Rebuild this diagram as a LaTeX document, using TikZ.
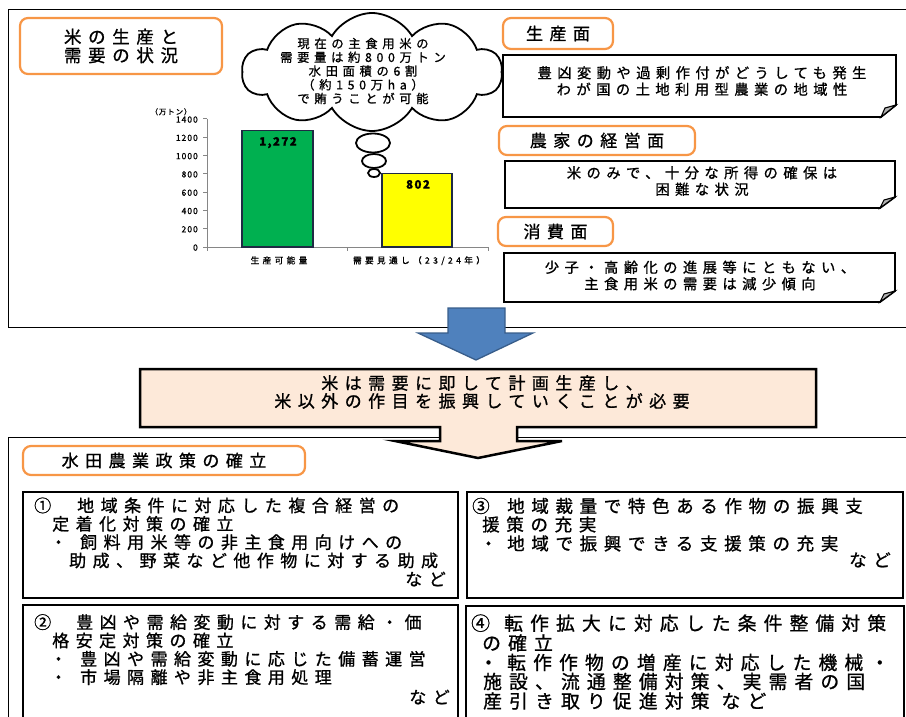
\documentclass[tikz,border=0pt]{standalone}
\usepackage{fontspec}
\usetikzlibrary{shapes.symbols}
\newfontfamily\jpL[LetterSpace=38,FakeBold=1.0]{Noto Sans CJK JP}
\newfontfamily\jpD[LetterSpace=12,FakeBold=1.0]{Noto Sans CJK JP}
\definecolor{orng}{HTML}{F79646}
\definecolor{peach}{HTML}{FDE9D9}
\definecolor{arrowblue}{HTML}{4F81BD}
\definecolor{arrowblueline}{HTML}{385D8A}
\definecolor{grn}{HTML}{00B050}
\definecolor{ylw}{HTML}{FFFF00}
\definecolor{navy}{HTML}{1F2A44}
\definecolor{axisgray}{HTML}{868686}
\begin{document}
\begin{tikzpicture}[x=1pt,y=-1pt,
  txt/.style={inner sep=0pt, text height=0.86em, text depth=0.14em},
  lbl/.style={draw=orng, line width=2.2pt, rounded corners=8pt, fill=white, inner sep=0pt,
              font=\jpL\fontsize{17}{18}\selectfont},
  pbox/.style={draw=black, line width=1.8pt},
  frame/.style={draw=black, line width=1pt},
  fbox/.style={draw=black, line width=1.8pt, fill=white, line join=miter},
  fold/.style={draw=black, line width=1.1pt, fill=black!30},
  lA/.style={txt, anchor=west, font=\jpL\fontsize{17}{18}\selectfont},
  lAe/.style={txt, anchor=east, font=\jpL\fontsize{17}{18}\selectfont},
  lAc/.style={txt, font=\jpL\fontsize{17}{18}\selectfont},
  lC/.style={txt, anchor=west, font=\jpL\fontsize{17.5}{18}\selectfont},
  lCe/.style={txt, anchor=east, font=\jpL\fontsize{17.5}{18}\selectfont},
  lCc/.style={txt, font=\jpL\fontsize{17.5}{18}\selectfont},
  lD/.style={txt, anchor=west, font=\jpL\fontsize{18.8}{19}\selectfont},
  lDc/.style={txt, font=\jpL\fontsize{18.8}{19}\selectfont},
  rtxt/.style={inner sep=0pt, align=center, font=\jpL\fontsize{14.3}{16.5}\selectfont},
  tick/.style={txt, anchor=east, font=\jpD\fontsize{8.5}{10}\selectfont},
  cat/.style={txt, font=\jpL\fontsize{8.7}{10}\selectfont},
  val/.style={txt, font=\jpD\bfseries\fontsize{11.5}{13}\selectfont},
  bub/.style={draw=black, line width=1.8pt, fill=white},
]
\useasboundingbox (0,0) rectangle (906,717);
\clip (0,0) rectangle (906,717);

% ---------- frames ----------
\draw[frame] (8,10) rectangle (915,327);
\draw[frame] (8,437) rectangle (915,730);

% ---------- title ----------
\node[lbl, minimum width=202pt, minimum height=56pt, align=center,
      font=\jpL\fontsize{17.5}{18.5}\selectfont] (title) at (121,46) {米の生産と\\需要の状況};

% ---------- chart ----------
\node[txt, font=\jpD\fontsize{7.5}{8}\selectfont] (unit) at (171,111) {（万トン）};
\draw[axisgray, line width=1pt] (207,119) -- (207,247) -- (488,247);
\foreach \v/\yy in {0/247,200/228.71,400/210.43,600/192.14,800/173.86,1000/155.57,1200/137.29,1400/119}{
  \draw[axisgray, line width=1pt] (203,\yy) -- (207,\yy);
  \node[tick] (tk\v) at (198,\yy) {\v};
}
\foreach \xx in {207,347,488}{ \draw[axisgray, line width=1pt] (\xx,247) -- (\xx,251); }
\draw[fill=grn, draw=navy, line width=1.5pt] (242,247) rectangle (313,130.7);
\draw[fill=ylw, draw=navy, line width=1.5pt] (382,247) rectangle (452,173.7);
\node[val] (v1) at (278,142) {1,272};
\node[val] (v2) at (418,185) {802};
\node[cat] (c1) at (279,260) {生産可能量};
\node[cat] (c2) at (419,260) {需要見通し（23/24年）};

% ---------- thought cloud ----------
\node[cloud, cloud puffs=10, cloud puff arc=120, cloud ignores aspect, draw, line width=1.8pt,
      fill=white, minimum width=260pt, minimum height=118pt, inner sep=0pt] (cloud) at (372,72) {};
\node[inner sep=0pt, align=center, font=\jpL\fontsize{12.3}{13.75}\selectfont] (cloudtxt) at (363,71)
  {現在の主食用米の\\需要量は約800万トン\\水田面積の6割\\（約150万ha）\\で賄うことが可能};
\draw[bub] (373,143) ellipse [x radius=17pt, y radius=9.5pt];
\draw[bub] (374,161) ellipse [x radius=12pt, y radius=7pt];
\draw[bub] (374,173) ellipse [x radius=6pt, y radius=4pt];

% ---------- right side ----------
\node[lbl, minimum width=110pt, minimum height=31pt] (lp) at (558,33.5) {生産面};
\draw[fbox] (503,55) -- (896,55) -- (896,105) -- (881,117) -- (503,117) -- cycle;
\draw[fold] (881,117) -- (885,108) -- (896,105) -- cycle;
\node[rtxt] (r1) at (702,81) {豊凶変動や過剰作付がどうしても発生\\わが国の土地利用型農業の地域性};

\node[lbl, minimum width=196pt, minimum height=29pt] (lf) at (597,140.5) {農家の経営面};
\draw[fbox] (505,161) -- (895,161) -- (895,197) -- (880,208) -- (505,208) -- cycle;
\draw[fold] (880,208) -- (884,200) -- (895,197) -- cycle;
\node[rtxt] (r2) at (702,181) {米のみで、十分な所得の確保は\\困難な状況};

\node[lbl, minimum width=115pt, minimum height=29pt] (lc) at (555.5,231.5) {消費面};
\draw[fbox] (504,253) -- (895,253) -- (895,291) -- (880,302) -- (504,302) -- cycle;
\draw[fold] (880,302) -- (884,294) -- (895,291) -- cycle;
\node[rtxt] (r3) at (700,275.5) {少子・高齢化の進展等にともない、\\主食用米の需要は減少傾向};

% ---------- blue arrow ----------
\draw[fill=arrowblue, draw=arrowblueline, line width=1.3pt, line join=miter]
  (448,308) -- (505,308) -- (505,333) -- (533,333) -- (476,360) -- (418,333) -- (448,333) -- cycle;

% ---------- middle callout ----------
\draw[fill=peach, draw=black, line width=2.5pt, line join=miter]
  (140,369) -- (816,369) -- (816,427) -- (517,427) -- (517,441) -- (562,441) -- (478,458)
  -- (395,441) -- (440,441) -- (440,427) -- (140,427) -- cycle;
\node[inner sep=0pt, align=center, font=\jpL\fontsize{17}{18}\selectfont] (mtxt) at (482,392)
  {米は需要に即して計画生産し、\\米以外の作目を振興していくことが必要};

% ---------- bottom ----------
\node[lbl, minimum width=282pt, minimum height=29pt] (policy) at (164,460.5) {水田農業政策の確立};

\draw[pbox] (23,492) rectangle (458,598);
\draw[pbox] (467,492) rectangle (903,598);
\draw[pbox] (23,605) rectangle (458,730);
\draw[pbox] (466,606) rectangle (904,730);

% box 1
\node[lA] (n1) at (34,508.3) {①};
\node[lA] (a1) at (77,508.3) {地域条件に対応した複合経営の};
\node[lA] (a2) at (52,526.7) {定着化対策の確立};
\node[lAc] (p1) at (58.5,545) {・};
\node[lA] (a3) at (80,545) {飼料用米等の非主食用向けへの};
\node[lA] (a4) at (69,563.3) {助成、野菜など他作物に対する助成};
\node[lAe] (a5) at (446,582) {など};

% box 3
\node[lC] (n3) at (472,509) {③};
\node[lC] (c1l) at (507,509) {地域裁量で特色ある作物の振興支};
\node[lC] (c2l) at (482,527.5) {援策の充実};
\node[lCc] (p3) at (488.5,546.5) {・};
\node[lC] (c3l) at (507,546.5) {地域で振興できる支援策の充実};
\node[lCe] (c4l) at (891,563) {など};

% box 2
\node[lA] (n2) at (34,625) {②};
\node[lA] (b1) at (76,625) {豊凶や需給変動に対する需給・価};
\node[lA] (b2) at (52,643.3) {格安定対策の確立};
\node[lAc] (p2a) at (58.5,661.7) {・};
\node[lA] (b3) at (80,661.7) {豊凶や需給変動に応じた備蓄運営};
\node[lAc] (p2b) at (58.5,680) {・};
\node[lA] (b4) at (80,680) {市場隔離や非主食用処理};
\node[lAe] (b5) at (450,700) {など};

% box 4
\node[lD] (n4) at (471,626.7) {④};
\node[lD] (d1) at (504,626.7) {転作拡大に対応した条件整備対策};
\node[lD] (d2) at (482,646.5) {の確立};
\node[lDc] (p4) at (488.5,666) {・};
\node[lD] (d3) at (507,666) {転作作物の増産に対応した機械・};
\node[lD] (d4) at (483,685) {施設、流通整備対策、実需者の国};
\node[lD] (d5) at (483,704.5) {産引き取り促進対策\hspace{12pt}など};
\end{tikzpicture}
\end{document}
